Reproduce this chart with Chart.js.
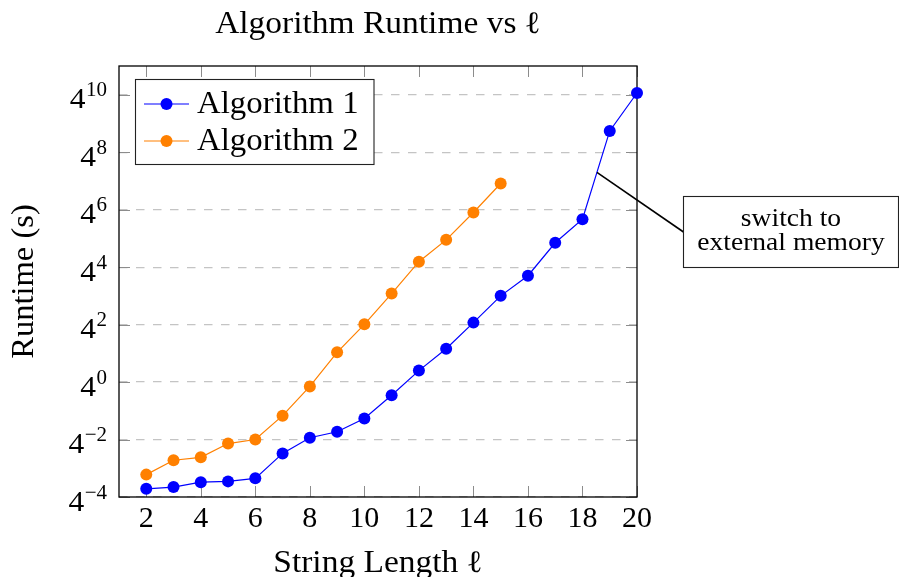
<!DOCTYPE html>
<html>
<head>
<meta charset="utf-8">
<script src="https://cdn.jsdelivr.net/npm/chart.js@4/dist/chart.umd.min.js"></script>
<style>
html, body { margin: 0; padding: 0; background: #ffffff; }
canvas { display: block; }
</style>
</head>
<body>
<canvas id="chart" width="899" height="577"></canvas>
<script>
// ---------------- data ----------------
const chartTitle = 'Algorithm Runtime vs \u2113';
const xAxisTitle = 'String Length \u2113';
const yAxisTitle = 'Runtime (s)';
const seriesNames = ['Algorithm 1', 'Algorithm 2'];

const alg1Lengths = [2, 3, 4, 5, 6, 7, 8, 9, 10, 11, 12, 13, 14, 15, 16, 17, 18, 19, 20];
const alg1Runtime = [0.0058, 0.0063, 0.0080, 0.0083, 0.0096, 0.032, 0.068, 0.091, 0.172, 0.53,
                     1.74, 5.0, 17.6, 64, 169, 830, 2590, 183000, 1140000];

const alg2Lengths = [2, 3, 4, 5, 6, 7, 8, 9, 10, 11, 12, 13, 14, 15];
const alg2Runtime = [0.0115, 0.023, 0.0265, 0.0515, 0.0625, 0.198, 0.81, 4.2, 16.2, 71.5,
                     333, 955, 3570, 14500];

const xTickValues = [2, 4, 6, 8, 10, 12, 14, 16, 18, 20];
const yTickBase = 4;
const yTickExponents = [-4, -2, 0, 2, 4, 6, 8, 10];
const yAxisMinExp = -4;
const yAxisMaxExp = 11;
const xAxisMin = 1;
const xAxisMax = 20;

const annotationLines = ['switch to', 'external memory'];
const annotationSegment = [16, 17];   // indices of Algorithm 1 points (x=18 and x=19) the callout sits between
const annotationFraction = 0.53;

// ---------------- styles ----------------
const FONT = '"Liberation Serif", "Times New Roman", serif';
const BLUE = '#0000ff';
const ORANGE = '#ff8000';

function toPoints(xs, ys) { return xs.map((v, i) => ({ x: v, y: ys[i] })); }
function supDigits(e) { return (e < 0 ? '\u2212' : '') + Math.abs(e); }

function txt(ctx, s, x, y, size, align, opts = {}) {
  ctx.save();
  ctx.font = (opts.italic ? 'italic ' : '') + size + 'px ' + FONT;
  ctx.fillStyle = opts.color || '#000';
  ctx.textBaseline = 'alphabetic';
  ctx.textAlign = align;
  const sx = opts.sx || 1;
  ctx.translate(x, y);
  if (opts.rot) ctx.rotate(opts.rot);
  ctx.scale(sx, 1);
  ctx.fillText(s, 0, 0);
  ctx.restore();
}

const decorPlugin = {
  id: 'decor',
  beforeDatasetsDraw(chart) {
    const { ctx, chartArea: a, scales: { x, y } } = chart;
    ctx.save();
    ctx.strokeStyle = '#8c8c8c';
    ctx.lineWidth = 1;
    ctx.beginPath();
    xTickValues.forEach(v => {
      const px = Math.round(x.getPixelForValue(v)) + 0.5;
      ctx.moveTo(px, a.bottom); ctx.lineTo(px, a.bottom - 11);
      ctx.moveTo(px, a.top); ctx.lineTo(px, a.top + 11);
    });
    yTickExponents.forEach(e => {
      const py = Math.round(y.getPixelForValue(Math.pow(yTickBase, e))) + 0.5;
      ctx.moveTo(a.left, py); ctx.lineTo(a.left + 11, py);
      ctx.moveTo(a.right, py); ctx.lineTo(a.right - 11, py);
    });
    ctx.stroke();
    ctx.strokeStyle = '#000';
    ctx.lineWidth = 1.3;
    ctx.strokeRect(a.left, a.top, a.right - a.left, a.bottom - a.top);
    ctx.restore();
  },
  afterDraw(chart) {
    const { ctx, chartArea: a, scales: { x, y } } = chart;
    const cx = (a.left + a.right) / 2;
    const cy = (a.top + a.bottom) / 2;

    // title
    txt(ctx, chartTitle, cx, 33, 31, 'center', { sx: 1.08 });

    // x tick labels
    xTickValues.forEach(v => {
      txt(ctx, String(v), x.getPixelForValue(v), 527, 30, 'center');
    });
    // y tick labels (base with superscript exponent)
    yTickExponents.forEach(e => {
      const py = y.getPixelForValue(Math.pow(yTickBase, e));
      const right = a.left - 12;
      ctx.save();
      ctx.font = '21px ' + FONT;
      const ew = ctx.measureText(supDigits(e)).width;
      ctx.restore();
      txt(ctx, supDigits(e), right, py + 1.5, 21, 'right');
      txt(ctx, String(yTickBase), right - ew - 0.5, py + 13.5, 30, 'right', { sx: 1.05 });
    });

    // axis titles
    txt(ctx, xAxisTitle, cx, 572, 31, 'center', { sx: 1.08 });
    txt(ctx, yAxisTitle, 33, cy, 31, 'center', { rot: -Math.PI / 2, sx: 1.05 });

    // legend
    const lx = 135.5, ly = 79.5, lw = 238.5, lh = 85;
    ctx.save();
    ctx.fillStyle = '#fff';
    ctx.fillRect(lx, ly, lw, lh);
    ctx.strokeStyle = '#222';
    ctx.lineWidth = 1.1;
    ctx.strokeRect(lx, ly, lw, lh);
    ctx.restore();
    chart.data.datasets.forEach((ds, i) => {
      const rowY = 104 + i * 37;
      ctx.save();
      ctx.strokeStyle = ds.borderColor;
      ctx.lineWidth = 1.2;
      ctx.beginPath();
      ctx.moveTo(144, rowY); ctx.lineTo(189, rowY);
      ctx.stroke();
      ctx.fillStyle = ds.backgroundColor;
      ctx.beginPath();
      ctx.arc(166.5, rowY, 6, 0, Math.PI * 2);
      ctx.fill();
      ctx.restore();
      txt(ctx, ds.label, 197, rowY + 8.5, 31, 'left', { sx: 1.06 });
    });

    // annotation callout
    const pts = chart.getDatasetMeta(0).data;
    const p0 = pts[annotationSegment[0]], p1 = pts[annotationSegment[1]];
    const ax = p0.x + (p1.x - p0.x) * annotationFraction;
    const ay = p0.y + (p1.y - p0.y) * annotationFraction;
    const bx = 683.5, by = 196.5, bw = 215, bh = 71;
    ctx.save();
    ctx.strokeStyle = '#000';
    ctx.lineWidth = 1.6;
    ctx.beginPath();
    ctx.moveTo(ax, ay); ctx.lineTo(bx, by + bh / 2);
    ctx.stroke();
    ctx.fillStyle = '#fff';
    ctx.fillRect(bx, by, bw, bh);
    ctx.strokeStyle = '#222';
    ctx.lineWidth = 1.1;
    ctx.strokeRect(bx, by, bw, bh);
    ctx.restore();
    txt(ctx, annotationLines[0], bx + bw / 2, 226, 26, 'center', { sx: 1.06 });
    txt(ctx, annotationLines[1], bx + bw / 2, 250, 26, 'center', { sx: 1.06 });
  }
};

new Chart(document.getElementById('chart'), {
  type: 'line',
  data: {
    datasets: [
      {
        label: seriesNames[0],
        data: toPoints(alg1Lengths, alg1Runtime),
        borderColor: BLUE, backgroundColor: BLUE,
        pointBackgroundColor: BLUE, pointBorderColor: BLUE,
        borderWidth: 1.2, pointRadius: 6, pointBorderWidth: 0,
        tension: 0, clip: false
      },
      {
        label: seriesNames[1],
        data: toPoints(alg2Lengths, alg2Runtime),
        borderColor: ORANGE, backgroundColor: ORANGE,
        pointBackgroundColor: ORANGE, pointBorderColor: ORANGE,
        borderWidth: 1.2, pointRadius: 6, pointBorderWidth: 0,
        tension: 0, clip: false
      }
    ]
  },
  options: {
    responsive: false,
    animation: false,
    devicePixelRatio: 1,
    layout: { padding: { left: 0, top: 66, right: 262, bottom: 0 } },
    plugins: { legend: { display: false }, title: { display: false }, tooltip: { enabled: false } },
    scales: {
      x: {
        type: 'linear',
        min: xAxisMin, max: xAxisMax,
        afterBuildTicks: s => { s.ticks = xTickValues.map(v => ({ value: v })); },
        afterFit: s => { s.height = 80; },
        ticks: { display: false },
        grid: { display: false },
        border: { display: false },
        title: { display: false }
      },
      y: {
        type: 'logarithmic',
        min: Math.pow(yTickBase, yAxisMinExp), max: Math.pow(yTickBase, yAxisMaxExp),
        afterBuildTicks: s => { s.ticks = yTickExponents.map(e => ({ value: Math.pow(yTickBase, e) })); },
        afterFit: s => { s.width = 119; },
        ticks: { display: false },
        grid: { display: true, color: '#c4c4c4', lineWidth: 1.2, drawTicks: false },
        border: { display: false, dash: [8.5, 8.5] },
        title: { display: false }
      }
    }
  },
  plugins: [decorPlugin]
});
</script>
</body>
</html>
